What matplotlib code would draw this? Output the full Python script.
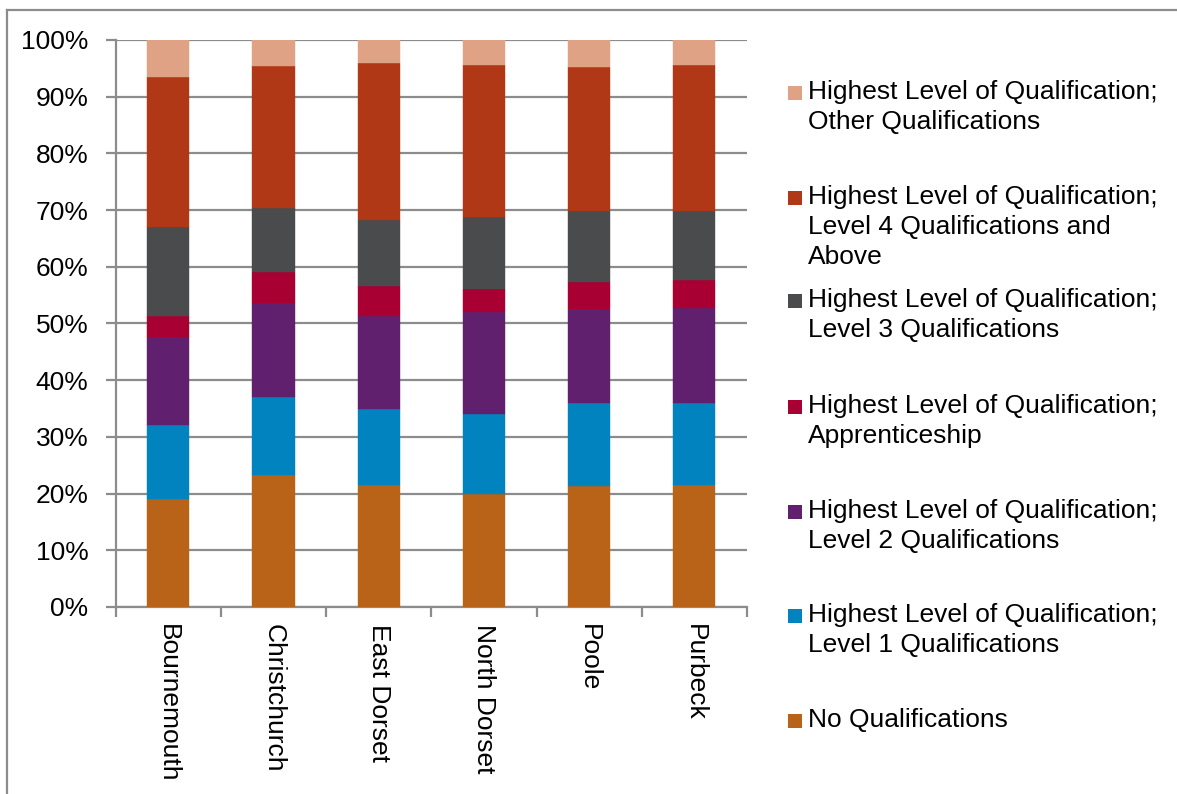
import matplotlib
matplotlib.use("Agg")
import matplotlib.pyplot as plt
from matplotlib.patches import Rectangle
from matplotlib.lines import Line2D
import numpy as np

plt.rcParams['font.family'] = ['Liberation Sans', 'DejaVu Sans']

districts = ["Bournemouth", "Christchurch", "East Dorset", "North Dorset", "Poole", "Purbeck"]

no_qual      = [19.1, 23.3, 21.5, 20.0, 21.4, 21.6]
level1       = [13.0, 13.8, 13.5, 14.1, 14.5, 14.3]
level2       = [15.5, 16.6, 16.4, 17.9, 16.6, 16.9]
apprentice   = [3.8, 5.3, 5.3, 4.1, 4.9, 4.9]
level3       = [15.7, 11.3, 11.6, 12.6, 12.4, 12.1]
level4       = [26.4, 25.1, 27.6, 26.9, 25.4, 25.8]
other        = [6.5, 4.6, 4.1, 4.4, 4.8, 4.4]

series_names = [
    "No Qualifications",
    "Highest Level of Qualification;\nLevel 1 Qualifications",
    "Highest Level of Qualification;\nLevel 2 Qualifications",
    "Highest Level of Qualification;\nApprenticeship",
    "Highest Level of Qualification;\nLevel 3 Qualifications",
    "Highest Level of Qualification;\nLevel 4 Qualifications and\nAbove",
    "Highest Level of Qualification;\nOther Qualifications",
]
series_values = [no_qual, level1, level2, apprentice, level3, level4, other]
colors = ["#B86317", "#0083BE", "#61206E", "#A80032", "#4A4B4D", "#B03817", "#DFA284"]

W, H = 1177, 794
FS = 19
fig = plt.figure(figsize=(W / 100, H / 100), dpi=100)
ax = fig.add_axes([115.7 / W, 1 - 607 / H, (747 - 115.7) / W, (607 - 40) / H])

x = np.arange(len(districts))
bottom = np.zeros(len(districts))
for vals, c in zip(series_values, colors):
    v = np.array(vals, dtype=float)
    ax.bar(x, v, width=0.4, bottom=bottom, color=c, edgecolor=c, linewidth=0.3, zorder=3)
    bottom += v

ax.set_xlim(-0.5, len(districts) - 0.5)
ax.set_ylim(0, 100)
ax.set_yticks(np.arange(0, 101, 10))
ax.set_yticklabels([f"{t}%" for t in range(0, 101, 10)], fontsize=FS)
ax.yaxis.grid(True, color="#8C8C8C", linewidth=1.6, zorder=0)
ax.set_axisbelow(True)

ax.set_xticks(x)
ax.set_xticklabels(districts, rotation=-90, fontsize=FS, va="top", ha="center")
ax.set_xticks(np.arange(-0.5, len(districts), 1.0), minor=True)
ax.tick_params(axis="x", which="major", length=0, pad=12)
ax.tick_params(axis="x", which="minor", length=7, width=1.6, color="#8C8C8C", direction="out")
ax.tick_params(axis="y", length=7, width=1.6, color="#8C8C8C", pad=12.5)

for s in ["top", "right"]:
    ax.spines[s].set_visible(False)
for s in ["left", "bottom"]:
    ax.spines[s].set_color("#8C8C8C")
    ax.spines[s].set_linewidth(1.6)

# Manual legend (top entry = last series)
first_baselines = [99, 204, 307, 413, 518, 622, 727]
line_step = 30
for i, (name, c) in enumerate(zip(series_names[::-1], colors[::-1])):
    yb = first_baselines[i]
    fig.patches.append(Rectangle((788 / W, 1 - (yb + 0.5) / H), 14 / W, 14 / H,
                                 transform=fig.transFigure, facecolor=c, edgecolor="none"))
    for k, line in enumerate(name.split("\n")):
        fig.text(808 / W, 1 - (yb + k * line_step) / H, line, fontsize=FS,
                 ha="left", va="baseline")

# Outer border
fig.add_artist(Line2D([7 / W, 1.0], [1 - 10 / H, 1 - 10 / H], transform=fig.transFigure,
                      color="#8C8C8C", linewidth=1.6))
fig.add_artist(Line2D([7 / W, 7 / W], [0, 1 - 10 / H], transform=fig.transFigure,
                      color="#8C8C8C", linewidth=1.6))

fig.savefig("out.png", dpi=100)
